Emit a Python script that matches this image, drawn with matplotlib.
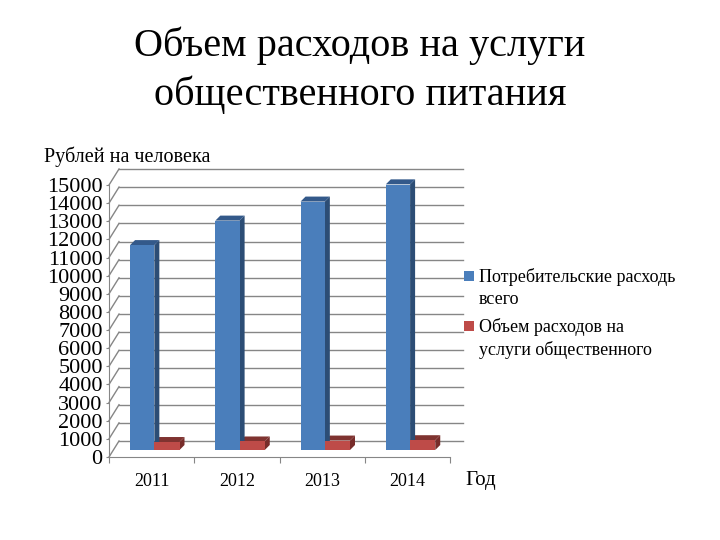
import matplotlib
matplotlib.use("Agg")
import matplotlib.pyplot as plt
from matplotlib.patches import Rectangle

plt.rcParams["font.family"] = ["Liberation Serif", "DejaVu Serif"]

# values
years = ["2011", "2012", "2013", "2014"]
total = [11300, 12650, 13700, 14650]
catering = [440, 470, 520, 540]
y_ticks = list(range(0, 16000, 1000))

BLUE = ["#4a7ebb", "#2c4d75", "#33598a"]
RED = ["#be4b48", "#772c2a", "#7f3330"]
GRID = "#868686"

fig = plt.figure(figsize=(7.2, 5.4), dpi=100)
ax = fig.add_axes([109 / 720, 83 / 540, 341 / 720, 272 / 540])
ax.set_xlim(-0.5, 3.5)
ax.set_ylim(0, 15000)

# pixel sizes expressed in data units
px_x = 4 / 341
px_y = 15000 / 272


def bar3d(x0, value, width, depth, colors):
    base = 7 * px_y
    top = base + value
    x1 = x0 + width
    dx = depth * px_x
    dy = depth * px_y
    ax.bar(x0, value, width, bottom=base, align="edge", color=colors[0], zorder=4)
    ax.fill([x1, x1 + dx, x1 + dx, x1], [base, base + dy, top + dy, top],
            color=colors[1], lw=0, zorder=3, clip_on=False)
    ax.fill([x0, x0 + dx, x1 + dx, x1], [top, top + dy, top + dy, top],
            color=colors[2], lw=0, zorder=3, clip_on=False)


# back wall and left wall zigzag
for v in y_ticks:
    ax.plot([-0.5 + 10 * px_x, 3.5 + 13 * px_x], [v + 16 * px_y] * 2,
            color=GRID, lw=1, zorder=1, clip_on=False)
    ax.plot([-0.5, -0.5 + 10 * px_x], [v, v + 16 * px_y],
            color=GRID, lw=1, zorder=1, clip_on=False)

for i in range(len(years)):
    x0 = i - 0.253
    bar3d(x0 + 0.285, catering[i], 0.295, 5, RED)
    bar3d(x0, total[i], 0.285, 5, BLUE)

for s in ["top", "right"]:
    ax.spines[s].set_visible(False)
for s in ["left", "bottom"]:
    ax.spines[s].set_color(GRID)

ax.set_yticks(y_ticks)
ax.set_yticklabels([str(v) for v in y_ticks], fontsize=16)
ax.set_xticks([0.5 * k - 0.5 for k in range(0, 9, 2)])
ax.set_xticklabels([])
ax.tick_params(axis="y", length=2.5, pad=2, color=GRID)
ax.tick_params(axis="x", length=4, color=GRID)
for i, year in enumerate(years):
    ax.annotate(year, (i, 0), xytext=(0, -25), textcoords="offset pixels",
                ha="center", va="center", fontsize=13)

fig.text(360 / 720, 1 - 46 / 540, "Объем расходов на услуги", ha="center", va="center", fontsize=29)
fig.text(360 / 720, 1 - 95 / 540, "общественного питания", ha="center", va="center", fontsize=29)
fig.text(44 / 720, 1 - 157 / 540, "Рублей на человека", ha="left", va="center", fontsize=14.5)
fig.text(465 / 720, 1 - 481 / 540, "Год", ha="left", va="center", fontsize=15)

# legend placed by hand, the line spacing is wider than a normal legend
legend_labels = ["Потребительские расходь\nвсего", "Объем расходов на\nуслуги общественного"]
legend_colors = [BLUE[0], RED[0]]
legend_y = [276, 326]
for label, color, ly in zip(legend_labels, legend_colors, legend_y):
    fig.add_artist(Rectangle((464 / 720, 1 - (ly + 5) / 540), 10 / 720, 10 / 540,
                             transform=fig.transFigure, color=color, lw=0))
    fig.text(479 / 720, 1 - (ly - 8) / 540, label, ha="left", va="top",
             fontsize=13, linespacing=1.38)

fig.savefig("out.png", dpi=100)
